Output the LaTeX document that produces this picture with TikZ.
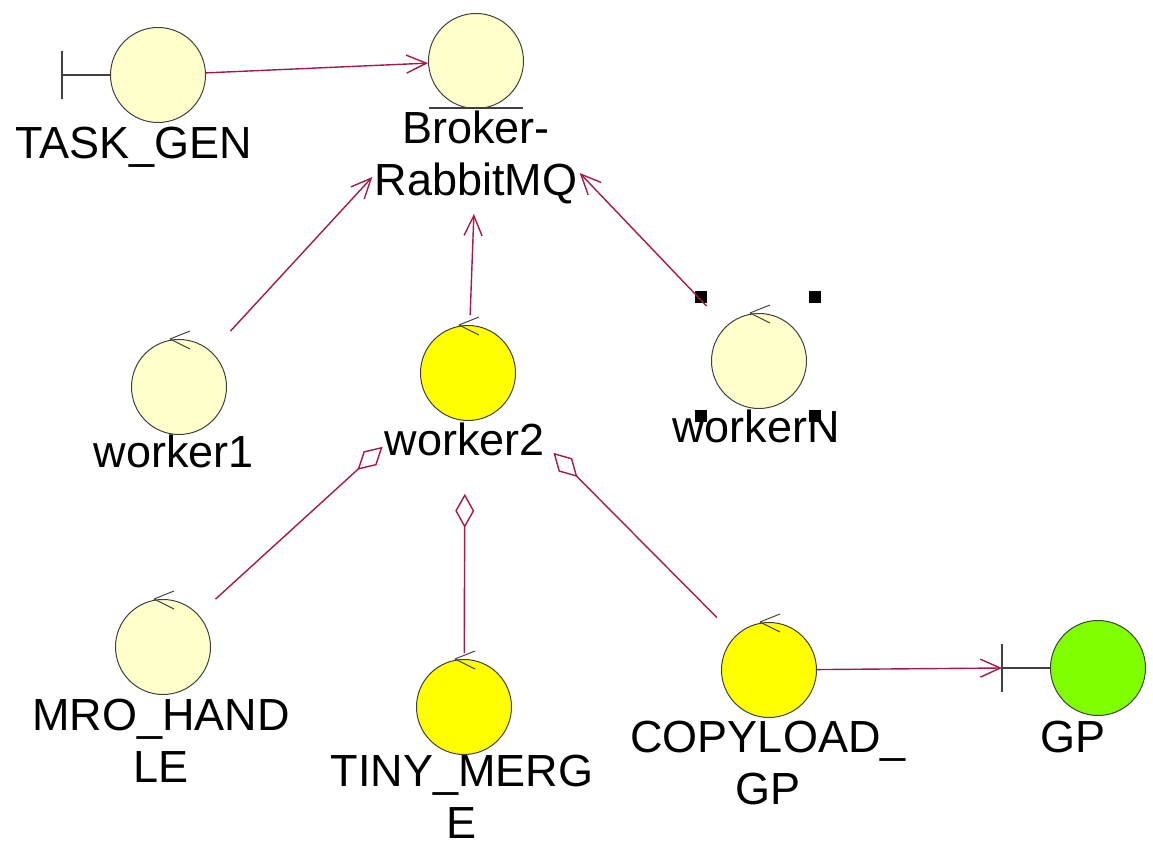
\documentclass[tikz,border=0pt]{standalone}
\usepackage{fontspec}
\setmainfont{Liberation Sans}
\usetikzlibrary{arrows.meta}
\definecolor{objlight}{RGB}{255,255,204}
\definecolor{objyellow}{RGB}{255,255,0}
\definecolor{objgreen}{RGB}{128,255,0}
\definecolor{linkred}{RGB}{165,25,75}
\definecolor{objedge}{RGB}{64,64,64}
\newcommand{\ctrlmark}[1]{\draw[objedge, line width=0.5pt] ([xshift=-4.5pt]#1.north) -- ++(10pt,4pt) ([xshift=-4.5pt]#1.north) -- ++(10pt,-5pt);}
\newcommand{\bndmark}[2]{\draw[objedge, line width=0.6pt] (#1.west) -- ++(-24pt,0) coordinate (#2) ++(0,12pt) -- ++(0,-24pt);}
\begin{document}
\begin{tikzpicture}[x=0.5pt, y=-0.5pt,
    obj/.style={circle, draw=objedge, line width=0.5pt, minimum size=47.5pt, inner sep=0pt, fill=objlight},
    lbl/.style={align=center, font=\fontsize{22.5}{26}\selectfont, inner sep=1pt},
    flow/.style={linkred, line width=0.7pt, -{Straight Barb[length=10pt,width=9pt]}},
    aggr/.style={linkred, line width=0.7pt, -{Diamond[fill=white,length=17pt,width=9.5pt]}}]
    \useasboundingbox (0,0) rectangle (1153,844);
    \node[obj] (tg) at (158,75) {};
    \node[lbl, anchor=base] (tgl) at (134,159) {TASK\_GEN};
    \bndmark{tg}{tgb}
    \node[obj] (br) at (476,61) {};
    \node[lbl] (brl) at (476,157) {Broker-\\RabbitMQ};
    \draw[objedge, line width=0.6pt] ([xshift=-23.5pt,yshift=-23.5pt]br.center) -- ([xshift=23.5pt,yshift=-23.5pt]br.center);
    \node[obj] (w1) at (179,387) {};
    \node[lbl, anchor=base] (w1l) at (174,468) {worker1};
    \node[obj, fill=objyellow] (w2) at (468,373) {};
    \node[lbl, anchor=base] (w2l) at (465,456) {worker2};
    \node[obj] (wn) at (759,361) {};
    \node[lbl, anchor=base] (wnl) at (756,443) {workerN};
    \node[obj] (mro) at (163,647) {};
    \node[lbl] (mrol) at (161,741) {MRO\_HAND\\LE};
    \node[obj, fill=objyellow] (tm) at (464,707) {};
    \node[lbl] (tml) at (462,797) {TINY\_MERG\\E};
    \node[obj, fill=objyellow] (cp) at (769,670) {};
    \node[lbl] (cpl) at (768,763) {COPYLOAD\_\\GP};
    \node[obj, fill=objgreen] (gp) at (1098,668) {};
    \node[lbl, anchor=base] (gpl) at (1073,753) {GP};
    \bndmark{gp}{gpb}
    \foreach \n in {w1,w2,wn,mro,tm,cp} {\ctrlmark{\n}}
    \foreach \p in {(695,291),(809,291),(695,410),(809,410)} {\fill \p rectangle ++(6pt,-6pt);}
    \draw[flow] (tg) -- (br);
    \draw[flow, shorten <=14pt] (w1) -- ([yshift=-10pt]brl.west);
    \draw[flow, shorten <=5pt, shorten >=4pt] (w2) -- (brl);
    \draw[flow, shorten <=14pt] (wn) -- ([yshift=-8pt]brl.east);
    \draw[aggr, shorten <=11.5pt] (mro) -- ([yshift=6pt]w2l.south west);
    \draw[aggr, shorten <=3pt, shorten >=17.5pt] (tm) -- (w2l);
    \draw[aggr, shorten <=13pt] (cp) -- ([xshift=3pt,yshift=3pt]w2l.south east);
    \draw[flow] (cp) -- (gpb);
\end{tikzpicture}
\end{document}
